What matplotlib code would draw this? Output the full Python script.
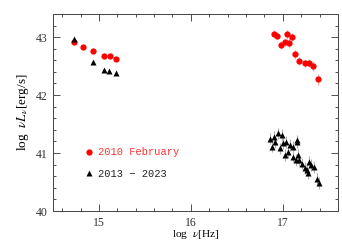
import matplotlib
matplotlib.use("Agg")
import matplotlib.pyplot as plt
from matplotlib.ticker import MultipleLocator

plt.rcParams['font.family'] = ['Liberation Serif', 'DejaVu Serif']
plt.rcParams['mathtext.fontset'] = 'stix'

# 2010 February (red circles)
red_x = [14.73, 14.83, 14.93, 15.05, 15.12, 15.18,
         16.90, 16.94, 16.98, 17.02, 17.05, 17.07, 17.10, 17.13, 17.18, 17.24, 17.29, 17.33, 17.38]
red_y = [42.92, 42.83, 42.76, 42.68, 42.67, 42.62,
         43.06, 43.02, 42.86, 42.91, 43.05, 42.90, 43.00, 42.70, 42.59, 42.55, 42.56, 42.50, 42.27]
red_err = [0.03, 0.03, 0.03, 0.03, 0.03, 0.03,
           0.06, 0.06, 0.07, 0.06, 0.08, 0.08, 0.07, 0.07, 0.07, 0.06, 0.07, 0.08, 0.09]

# 2013 - 2023 (black triangles)
blk_x = [14.73, 14.93, 15.05, 15.11, 15.18,
         16.86, 16.90, 16.95, 16.99, 16.92, 16.88, 16.97, 17.00, 17.08, 17.11, 17.15,
         17.06, 17.02, 17.11, 17.17, 17.14, 17.18, 17.21, 17.24, 17.26, 17.29, 17.31,
         17.34, 17.28, 17.37, 17.39, 17.03, 17.16]
blk_y = [42.97, 42.57, 42.43, 42.41, 42.38,
         41.25, 41.28, 41.34, 41.31, 41.19, 41.11, 41.08, 41.17, 41.14, 41.11, 41.19,
         41.02, 40.97, 40.94, 40.97, 40.88, 40.88, 40.82, 40.74, 40.71, 40.85, 40.79,
         40.76, 40.65, 40.56, 40.48, 41.19, 41.22]
blk_err = [0.02, 0.02, 0.02, 0.02, 0.02] + [0.1] * 28

fig = plt.figure(figsize=(3.42, 2.44), dpi=100)
ax = fig.add_axes([0.155, 0.135, 0.833, 0.808])

ax.errorbar(red_x, red_y, yerr=red_err, fmt='none', ecolor='#f4a0a0', elinewidth=0.8, zorder=2)
ax.errorbar(blk_x, blk_y, yerr=blk_err, fmt='none', ecolor='#b0b0b0', elinewidth=0.8, zorder=2)
ax.plot(red_x, red_y, 'o', color='#ff0000', ms=4.5, mec='none', zorder=3, label='2010 February')
ax.plot(blk_x, blk_y, '^', color='black', ms=4.3, mec='none', zorder=4, label='2013 − 2023')

ax.set_xlim(14.5, 17.6)
ax.set_ylim(40, 43.4)
ax.xaxis.set_major_locator(MultipleLocator(1))
ax.xaxis.set_minor_locator(MultipleLocator(0.2))
ax.yaxis.set_major_locator(MultipleLocator(1))
ax.yaxis.set_minor_locator(MultipleLocator(0.2))
ax.tick_params(which='both', direction='in', top=True, right=True, labelsize=8.5, colors='#333333', pad=4)
ax.tick_params(which='major', length=5, width=0.6)
ax.tick_params(which='minor', length=2.5, width=0.6)
for s in ax.spines.values():
    s.set_linewidth(0.7)
    s.set_color('#444444')

ax.set_xlabel(r'log  $\nu$[Hz]', fontsize=8.2, labelpad=-0.5)
ax.set_ylabel(r'log  $\nu L_\nu$[erg/s]', fontsize=9.5, labelpad=3)

leg = ax.legend(loc='upper left', bbox_to_anchor=(0.10, 0.345), frameon=False,
                prop={'family': 'Liberation Mono', 'size': 7.5}, handlelength=0.6,
                handletextpad=0.6, labelspacing=1.1, borderaxespad=0)
for t, c in zip(leg.get_texts(), ['#ff3030', '#222222']):
    t.set_color(c)

fig.savefig('out.png', dpi=100)
